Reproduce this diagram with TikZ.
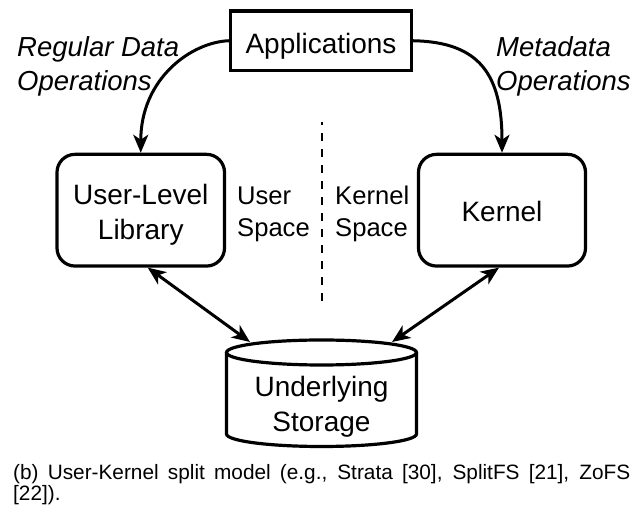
\documentclass[tikz,border=0pt]{standalone}
\usepackage{fontspec}
\setmainfont{Liberation Sans}
\usetikzlibrary{arrows.meta}
\begin{document}
\begin{tikzpicture}[x=1bp,y=1bp,
  bx/.style={draw=black, line width=3.2bp, inner sep=0pt, font=\fontsize{28bp}{35bp}\selectfont},
  rbx/.style={bx, rounded corners=18bp},
  tip/.style={Stealth[length=18bp,width=15bp,inset=5bp]},
  conn/.style={line width=3bp, -{Stealth[length=18bp,width=15bp,inset=5bp]}},
  dconn/.style={line width=3bp, {Stealth[length=18bp,width=15bp,inset=5bp]}-{Stealth[length=18bp,width=15bp,inset=5bp]}},
  cyl/.style={draw=black, line width=3.2bp},
  sidelbl/.style={inner sep=0pt, anchor=base west, font=\fontsize{25.6bp}{32bp}\selectfont},
  oplbl/.style={inner sep=0pt, anchor=base west, font=\fontsize{27.5bp}{34bp}\selectfont\itshape},
  caplbl/.style={inner sep=0pt, anchor=base west, font=\fontsize{20.8bp}{18bp}\selectfont},
  divider/.style={line width=2.4bp, dash pattern=on 7.5bp off 8.5bp, dash phase=4.5bp},
]
\useasboundingbox (0,0) rectangle (644,506);

% boxes
\node[bx, minimum width=181bp, minimum height=59.5bp, text height=25.1bp, text depth=0bp] (app) at (321,465.25) {Applications};
\node[rbx, minimum width=167.5bp, minimum height=111.7bp, text height=20bp, text depth=30.4bp] (lib) at (140.75,295.8)
  {\begin{tabular}[t]{@{}c@{}}User-Level\\Library\end{tabular}};
\node[rbx, minimum width=167bp, minimum height=111.7bp, text height=23.6bp, text depth=0bp] (kern) at (502,295.8) {Kernel};

% cylinder
\draw[cyl] (321.5,153.5) ellipse [x radius=95, y radius=12.5];
\draw[cyl] (226.5,153.5) -- (226.5,72) arc[start angle=180, end angle=360, x radius=95, y radius=12.5] -- (416.5,153.5);
\node[inner sep=0pt, anchor=base, font=\fontsize{28bp}{35bp}\selectfont] (store) at (321.5,109)
  {\begin{tabular}[t]{@{}c@{}}Underlying\\Storage\end{tabular}};
\coordinate (sl) at (250,164);
\coordinate (sr) at (392,164);

% labels
\node[sidelbl] (us) at (237,301) {\begin{tabular}[t]{@{}l@{}}User\\Space\end{tabular}};
\node[sidelbl] (ks) at (335,301) {\begin{tabular}[t]{@{}l@{}}Kernel\\Space\end{tabular}};
\node[oplbl] (rd) at (17,449) {\begin{tabular}[t]{@{}l@{}}Regular Data\\Operations\end{tabular}};
\node[oplbl] (md) at (496,449) {\begin{tabular}[t]{@{}l@{}}Metadata\\Operations\end{tabular}};

% divider
\coordinate (dtop) at (322,384);
\coordinate (dbot) at (322,203);
\draw[divider] (dtop) -- (dbot);

% connectors
\draw[conn] (app.west) .. controls (192,464) and (140.75,428) .. (lib.north);
\draw[conn] (app.east) .. controls (480,464) and (502,431) .. (kern.north);
\draw[dconn] ([xshift=7bp]lib.south) -- (sl);
\draw[dconn] ([xshift=-3bp]kern.south) -- (sr);

% caption
\node[caplbl] (cap) at (13,26) {\begin{tabular}[t]{@{}l@{}}\makebox[617bp][s]{(b) User-Kernel split model (e.g., Strata [30], SplitFS [21], ZoFS}\\{[22]).}\end{tabular}};
\end{tikzpicture}
\end{document}
